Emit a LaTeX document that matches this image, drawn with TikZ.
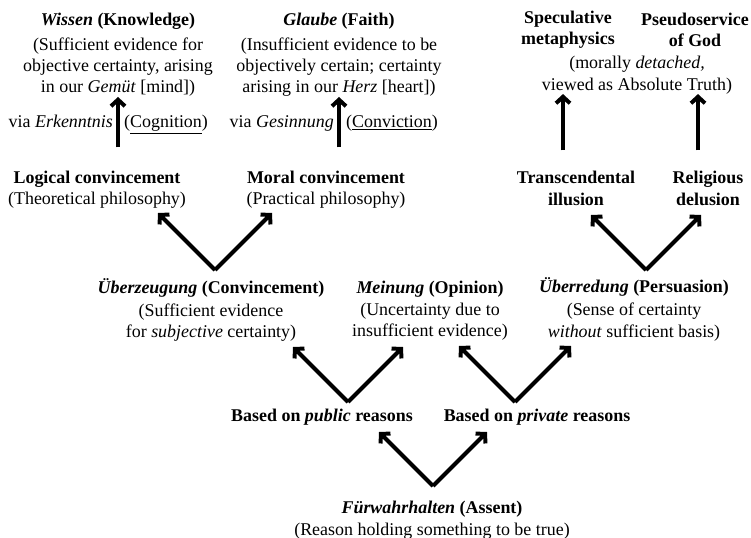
\documentclass[tikz,border=0pt]{standalone}
\usepackage{fontspec}
\setmainfont{Liberation Serif}
\usetikzlibrary{arrows.meta}

\tikzset{
  txt/.style={align=center, inner sep=0pt, font=\fontsize{18}{21.5}\selectfont},
  arr/.style={line width=4bp, -{Straight Barb[length=6.5bp,width=14bp]}},
}
% two arms of a fork, from a vertex
\newcommand\fork[3]{%
  \draw[arr] (#1) -- ++(-#2,-#3);
  \draw[arr] (#1) -- ++(#2,-#3);}

\begin{document}
\begin{tikzpicture}[x=1bp,y=-1bp]
\useasboundingbox (0,0) rectangle (751,538);

% top row
\node[txt] (wissen) at (118,55) {\textbf{\textit{Wissen} (Knowledge)}\\[3bp]
  (Sufficient evidence for\\ objective certainty, arising\\ in our \textit{Gemüt} [mind])};
\node[txt] (glaube) at (339,55) {\textbf{\textit{Glaube} (Faith)}\\[3bp]
  (Insufficient evidence to be\\ objectively certain; certainty\\ arising in our \textit{Herz} [heart])};
\node[txt] (spec) at (568,30) {\textbf{Speculative}\\ \textbf{metaphysics}};
\node[txt] (pseudo) at (695,30) {\textbf{Pseudoservice}\\ \textbf{of God}};
\node[txt] (morally) at (637,75) {(morally \textit{detached,}\\ viewed as Absolute Truth)};

\node[txt, anchor=base east] (viaE) at (113,128) {via \textit{Erkenntnis}};
\node[txt, anchor=base west] (cogn) at (124,128) {(\underline{Cognition})};
\node[txt, anchor=base east] (viaG) at (334,128) {via \textit{Gesinnung}};
\node[txt, anchor=base west] (conv) at (346,128) {(\underline{Conviction})};

% second row
\node[txt] (logic) at (97,189.5) {\textbf{Logical convincement}\\ (Theoretical philosophy)};
\node[txt] (moral) at (326,189.5) {\textbf{Moral convincement}\\ (Practical philosophy)};
\node[txt] (trans) at (576,188.5) {\textbf{Transcendental}\\ \textbf{illusion}};
\node[txt] (relig) at (708,188.5) {\textbf{Religious}\\ \textbf{delusion}};

\draw[arr, shorten <=23bp] (wissen.south |- logic.north) -- (wissen.south);
\draw[arr, shorten <=23bp] (glaube.south |- moral.north) -- (glaube.south);
\draw[arr, shorten <=21bp] ([xshift=-13bp]trans.north) -- ([xshift=-13bp]trans.north |- morally.south);
\draw[arr, shorten <=21bp] ([xshift=-10bp]relig.north) -- ([xshift=-10bp]relig.north |- morally.south);

% third row
\node[txt] (uz) at (211,310) {\textbf{\textit{Überzeugung} (Convincement)}\\[1.5bp]
  (Sufficient evidence\\ for \textit{subjective} certainty)};
\node[txt] (mein) at (430,311) {\textbf{\textit{Meinung} (Opinion)}\\
  (Uncertainty due to\\ insufficient evidence)};
\node[txt] (ueber) at (634,309.5) {\textbf{\textit{Überredung} (Persuasion)}\\[1.5bp]
  (Sense of certainty\\ \textit{without} sufficient basis)};

\coordinate (uzV) at (215,270);
\coordinate (ueV) at (646,270);
\fork{uzV}{57}{57}
\fork{ueV}{55}{55}

% fourth row
\node[txt, anchor=base] (public) at (322,421) {\textbf{Based on \textit{public} reasons}};
\node[txt, anchor=base] (private) at (537,421) {\textbf{Based on \textit{private} reasons}};

\coordinate (puV) at (348,402);
\coordinate (prV) at (515,402);
\fork{puV}{55}{55}
\fork{prV}{56}{56}

% bottom
\node[txt] (assent) at (432,520) {\textbf{\textit{Fürwahrhalten} (Assent)}\\
  (Reason holding something to be true)};

\coordinate (asV) at (433,486);
\fork{asV}{54}{54}
\end{tikzpicture}
\end{document}
